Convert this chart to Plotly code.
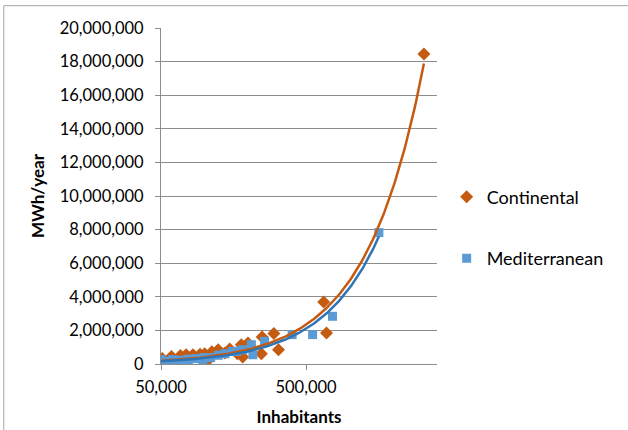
import numpy as np
import plotly.graph_objects as go

# Energy demand of cities by climate zone
cont_inhabitants = [51000, 52000, 53500, 55300, 58700, 59000, 63000, 68000, 74500, 83000,
                    93000, 100000, 105000, 112000, 124000, 138000, 149000, 168000, 179000,
                    183000, 199000, 246000, 249000, 300000, 323000, 662000, 692000, 3250000]
cont_mwh = [320000, 99500, 80000, 106000, 113500, 440000, 140000, 500000, 550000, 550000,
            580000, 610000, 200000, 730000, 850000, 660000, 900000, 610000, 1150000,
            420000, 1250000, 610000, 1600000, 1810000, 850000, 3690000, 1850000, 18450000]

med_inhabitants = [50000, 54000, 60000, 61000, 68000, 77000, 77000, 87000, 97000, 99000,
                   110000, 124000, 138000, 156000, 166000, 183000, 210000, 215000, 259000,
                   401000, 555000, 761000, 1590000]
med_mwh = [260000, 170000, 260000, 112000, 230000, 290000, 144000, 320000, 186000, 380000,
           380000, 520000, 610000, 750000, 750000, 850000, 1150000, 550000, 1350000,
           1750000, 1750000, 2840000, 7820000]

x_tick_vals = [50000, 500000]
x_tick_text = ["50,000", "500,000"]
y_tick_vals = list(range(0, 20000001, 2000000))

ORANGE = "#C55A11"
BLUE = "#5B9BD5"
BLUE_LINE = "#2E75B6"
GRID = "#8C8C8C"
FONT = "Lato"


def power_trend(xs, ys):
    """Power trendline y = a * x^b, fitted in log-log space."""
    xs = np.asarray(xs, float)
    ys = np.asarray(ys, float)
    b, ln_a = np.polyfit(np.log(xs), np.log(ys), 1)
    gx = np.logspace(np.log10(xs.min()), np.log10(xs.max()), 200)
    return gx, np.exp(ln_a) * gx ** b


fig = go.Figure()

fig.add_trace(go.Scatter(
    x=cont_inhabitants, y=cont_mwh, mode="markers", name="Continental",
    legendgroup="c",
    marker=dict(symbol="diamond", size=10, color=ORANGE, line=dict(width=0)),
))
fig.add_trace(go.Scatter(
    x=med_inhabitants, y=med_mwh, mode="markers", name="Mediterranean",
    legendgroup="m",
    marker=dict(symbol="square", size=9, color=BLUE, line=dict(width=0)),
))

tx, ty = power_trend(cont_inhabitants, cont_mwh)
fig.add_trace(go.Scatter(x=tx, y=ty, mode="lines", showlegend=False,
                         line=dict(color=ORANGE, width=2.5), hoverinfo="skip"))
tx, ty = power_trend(med_inhabitants, med_mwh)
fig.add_trace(go.Scatter(x=tx, y=ty, mode="lines", showlegend=False,
                         line=dict(color=BLUE_LINE, width=2.5), hoverinfo="skip"))

fig.update_layout(
    width=628, height=430,
    margin=dict(l=160.7, r=190.5, t=28.3, b=65.7),
    paper_bgcolor="white", plot_bgcolor="white",
    font=dict(family=FONT, size=16.5, color="#000000"),
    showlegend=True,
    legend=dict(x=1.035, y=0.406, yanchor="middle", xanchor="left",
                font=dict(family=FONT, size=18, color="#000000"),
                tracegroupgap=35, bgcolor="rgba(0,0,0,0)"),
    xaxis=dict(
        type="log", range=[np.log10(50000), np.log10(4000000)],
        tickvals=x_tick_vals, ticktext=x_tick_text,
        ticks="outside", ticklen=5, tickcolor=GRID, ticklabelstandoff=3,
        showgrid=False, showline=True, linecolor=GRID, linewidth=1,
        zeroline=False, automargin=False,
        title=dict(text="<b>Inhabitants</b>", standoff=15,
                   font=dict(family=FONT, size=17)),
    ),
    yaxis=dict(
        range=[0, 20000000], tickvals=y_tick_vals, tickformat=",d",
        ticks="outside", ticklen=5, tickcolor=GRID, ticklabelstandoff=8,
        showgrid=True, gridcolor=GRID, gridwidth=1,
        showline=True, linecolor=GRID, linewidth=1, zeroline=False,
        automargin=False,
        title=dict(text="<b>MWh/year</b>", standoff=10,
                   font=dict(family=FONT, size=17)),
    ),
    shapes=[dict(type="path", xref="paper", yref="paper",
                 path="M -0.5697,-0.3 L -0.5697,1.0664 L 2,1.0664",
                 line=dict(color="#A6A6A6", width=1))],
)

fig.write_html("out.html")
